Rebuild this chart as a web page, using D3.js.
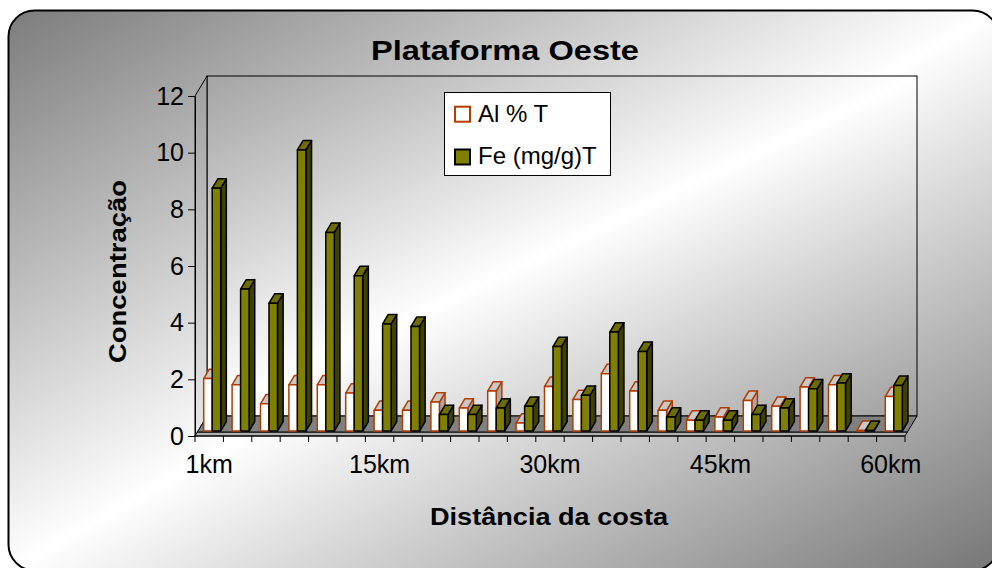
<!DOCTYPE html>
<html>
<head>
<meta charset="utf-8">
<script src="https://cdn.jsdelivr.net/npm/d3@7/dist/d3.min.js"></script>
<style>
  html, body { margin: 0; padding: 0; background: #ffffff; }
  svg { display: block; }
  text { font-family: "Liberation Sans", Arial, sans-serif; fill: #000; }
</style>
</head>
<body>
<svg id="chart" width="992" height="568"></svg>
<script>
// ---- data ----
const categories = ["1km","2.5km","5km","7.5km","10km","12.5km","15km","17.5km","20km","22.5km","25km","27.5km","30km","32.5km","35km","37.5km","40km","42.5km","45km","47.5km","50km","52.5km","55km","57.5km","60km"];
const shownLabels = ["1km","15km","30km","45km","60km"];
const seriesNames = ["Al % T", "Fe (mg/g)T"];
const alValues = [1.85,1.63,0.96,1.63,1.63,1.34,0.73,0.73,1.02,0.81,1.41,0.28,1.57,1.11,2.02,1.41,0.73,0.38,0.49,1.08,0.87,1.55,1.63,0.02,1.22];
const feValues = [8.57,5.01,4.51,9.92,7.01,5.48,3.78,3.69,0.58,0.58,0.81,0.87,2.98,1.26,3.49,2.81,0.49,0.38,0.38,0.58,0.81,1.49,1.69,0.02,1.61];
const yTicks = [0,2,4,6,8,10,12];
const titleText = "Plataforma Oeste";
const xTitle = "Distância da costa";
const yTitle = "Concentração";

(function () {
// ---- layout ----
const svg = d3.select("#chart");
const pLeft = 195, pRight = 905, pBottom = 436, pTop = 96;
const depth = {x: 12, y: -20};
const f0 = 0.25, f1 = 0.72;

const x = d3.scaleBand().domain(categories).range([pLeft, pRight]).padding(0);
const sub = d3.scaleBand().domain(["al","fe"]).range([0, x.bandwidth()]).paddingInner(0).paddingOuter(0.67);
const y = d3.scaleLinear().domain([0, 12]).range([pBottom, pTop]);

const defs = svg.append("defs");
const g1 = defs.append("linearGradient").attr("id","bgGrad").attr("x1",0).attr("y1",0).attr("x2",1).attr("y2",1);
g1.append("stop").attr("offset","0").attr("stop-color","#7c7c7c");
g1.append("stop").attr("offset","0.5").attr("stop-color","#ffffff");
g1.append("stop").attr("offset","1").attr("stop-color","#767676");
const g2 = defs.append("linearGradient").attr("id","wallGrad").attr("x1",0).attr("y1",0).attr("x2",1).attr("y2",1);
g2.append("stop").attr("offset","0").attr("stop-color","#a4a4a4");
g2.append("stop").attr("offset","0.5").attr("stop-color","#ffffff");
g2.append("stop").attr("offset","1").attr("stop-color","#a0a0a0");
const g3 = defs.append("linearGradient").attr("id","sideGrad").attr("x1",0).attr("y1",0).attr("x2",0).attr("y2",1);
g3.append("stop").attr("offset","0").attr("stop-color","#a0a0a0");
g3.append("stop").attr("offset","1").attr("stop-color","#e8e8e8");

// frame
svg.append("rect").attr("x",8.5).attr("y",10.5).attr("width",990).attr("height",560)
  .attr("rx",26).attr("ry",26).attr("fill","url(#bgGrad)").attr("stroke","#000").attr("stroke-width",2);

// back wall
const y0 = y(0), y12 = y(12);
svg.append("rect").attr("x", pLeft + depth.x).attr("y", y12 + depth.y)
  .attr("width", pRight - pLeft).attr("height", y0 - y12)
  .attr("fill","url(#wallGrad)").attr("stroke","#000").attr("stroke-width",1);
// left side wall
svg.append("polygon").attr("points", [
    [pLeft, y12], [pLeft + depth.x, y12 + depth.y], [pLeft + depth.x, y0 + depth.y], [pLeft, y0]
  ].map(p => p.join(",")).join(" "))
  .attr("fill","url(#sideGrad)").attr("stroke","#000").attr("stroke-width",1);

// floor
const fs = 0.2;
svg.append("polygon").attr("points", [
    [pLeft, y0], [pRight, y0], [pRight + depth.x*fs, y0 + depth.y*fs], [pLeft + depth.x*fs, y0 + depth.y*fs]
  ].map(p => p.join(",")).join(" "))
  .attr("fill","#b0b0b0").attr("stroke","#000").attr("stroke-width",1);
svg.append("polygon").attr("points", [
    [pLeft + depth.x*fs, y0 + depth.y*fs], [pRight + depth.x*fs, y0 + depth.y*fs],
    [pRight + depth.x, y0 + depth.y], [pLeft + depth.x, y0 + depth.y]
  ].map(p => p.join(",")).join(" "))
  .attr("fill","#808080").attr("stroke","#000").attr("stroke-width",1);

// bars
const styles = {
  al: {front:"#ffffff", side:"#a8a8a8", top:"#c8c8c8", stroke:"#b33c00"},
  fe: {front:"#808000", side:"#404000", top:"#6c6c00", stroke:"#000000"}
};
const ddx = depth.x*(f1-f0), ddy = depth.y*(f1-f0);
const barsG = svg.append("g");
categories.forEach((c, i) => {
  [["al", alValues[i]], ["fe", feValues[i]]].forEach(([k, v]) => {
    const st = styles[k];
    const x0 = x(c) + sub(k) + depth.x*f0;
    const w = sub.bandwidth();
    const yb = y(0) + depth.y*f0;
    const yt = y(v) + depth.y*f0;
    const g = barsG.append("g").attr("stroke", st.stroke).attr("stroke-width",1.5).attr("stroke-linejoin","round");
    g.append("polygon").attr("points", [[x0+w,yt],[x0+w+ddx,yt+ddy],[x0+w+ddx,yb+ddy],[x0+w,yb]].map(p=>p.join(",")).join(" ")).attr("fill", st.side);
    g.append("polygon").attr("points", [[x0,yt],[x0+ddx,yt+ddy],[x0+w+ddx,yt+ddy],[x0+w,yt]].map(p=>p.join(",")).join(" ")).attr("fill", st.top);
    g.append("rect").attr("x",x0).attr("y",yt).attr("width",w).attr("height",Math.max(0,yb-yt)).attr("fill", st.front);
  });
});

// y axis
const yAxis = svg.append("g").attr("transform",`translate(${pLeft},0)`)
  .call(d3.axisLeft(y).tickValues(yTicks).tickSize(7).tickSizeOuter(0).tickPadding(4).tickFormat(d3.format("d")));
yAxis.select(".domain").attr("stroke","#000");
yAxis.selectAll(".tick line").attr("stroke","#000");
yAxis.selectAll("text").style("font-size","25px").style("font-family","'Liberation Sans', Arial, sans-serif").attr("fill","#000");

// x axis
svg.append("line").attr("x1",pLeft).attr("x2",pRight).attr("y1",y0).attr("y2",y0).attr("stroke","#000");
const bounds = categories.map(c => x(c)).concat([x.range()[1]]);
svg.append("g").selectAll("line").data(bounds).join("line")
  .attr("x1", d => d).attr("x2", d => d).attr("y1", y0).attr("y2", y0 + 6).attr("stroke","#000");
svg.append("g").selectAll("text").data(shownLabels).join("text")
  .attr("x", d => x(d) + x.bandwidth()/2).attr("y", 473)
  .attr("text-anchor","middle").style("font-size","25px").text(d => d);

// titles
svg.append("text").attr("x",505).attr("y",59.5).attr("text-anchor","middle")
  .style("font-size","28px").style("font-weight","bold")
  .attr("textLength",268).attr("lengthAdjust","spacingAndGlyphs").text(titleText);
svg.append("text").attr("x",549).attr("y",525).attr("text-anchor","middle")
  .style("font-size","24px").style("font-weight","bold")
  .attr("textLength",238).attr("lengthAdjust","spacingAndGlyphs").text(xTitle);
svg.append("text").attr("transform","translate(126,271.5) rotate(-90)").attr("text-anchor","middle")
  .style("font-size","23px").style("font-weight","bold")
  .attr("textLength",183).attr("lengthAdjust","spacingAndGlyphs").text(yTitle);

// legend
const lg = svg.append("g");
lg.append("rect").attr("x",444.5).attr("y",92.5).attr("width",166).attr("height",83)
  .attr("fill","#fff").attr("stroke","#000").attr("stroke-width",1);
const legItems = [
  {name: seriesNames[0], key: "al", sy: 106.7, ty: 121.7},
  {name: seriesNames[1], key: "fe", sy: 149.5, ty: 163.5}
];
legItems.forEach(it => {
  lg.append("rect").attr("x",455).attr("y",it.sy).attr("width",15).attr("height",15)
    .attr("fill", styles[it.key].front).attr("stroke", styles[it.key].stroke).attr("stroke-width",2);
  lg.append("text").attr("x",478).attr("y",it.ty).style("font-size","24px").text(it.name);
});
})();
</script>
</body>
</html>
